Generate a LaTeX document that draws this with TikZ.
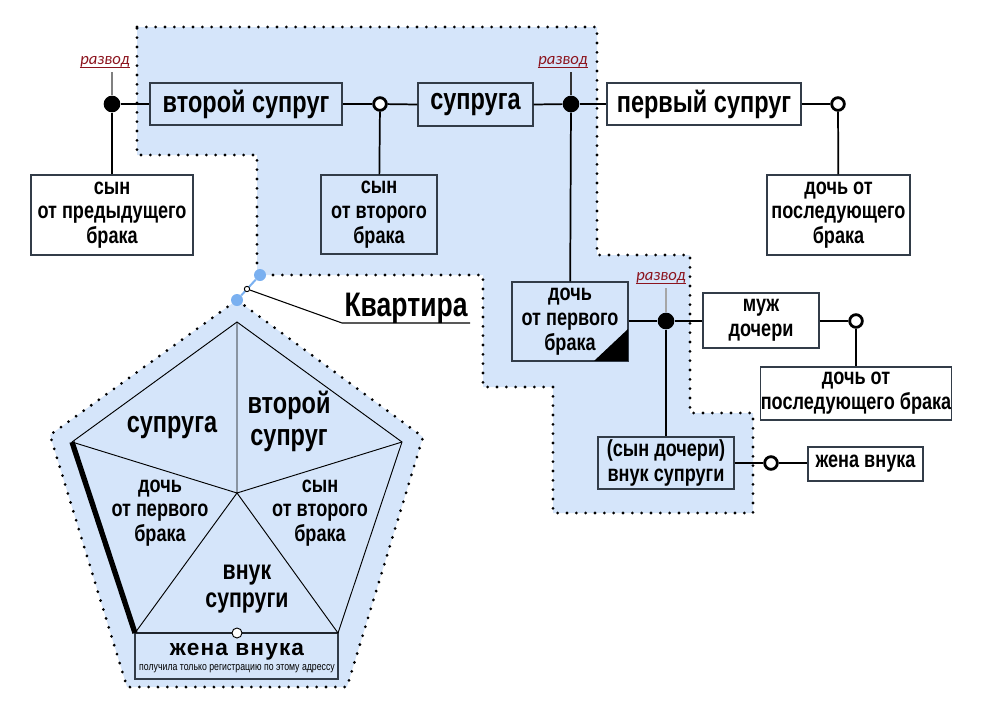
\documentclass[tikz,border=0pt]{standalone}
\usepackage{fontspec}
\setmainfont{Liberation Sans}[FakeStretch=0.78]
\newfontfamily\wfont{Liberation Sans}[LetterSpace=5]
\newfontfamily\rfont{Carlito}
\definecolor{reg}{RGB}{213,229,250}
\definecolor{bdot}{RGB}{122,176,240}
\definecolor{razvc}{RGB}{140,20,30}
\definecolor{bord}{RGB}{50,60,72}
\tikzset{
  box/.style={draw=bord, line width=0.9pt, rectangle, inner sep=0pt, align=center,
    font=\bfseries\fontsize{17.4}{18.6}\selectfont},
  bigtext/.style={font=\bfseries\fontsize{22.6}{24}\selectfont},
  bluebox/.style={box, fill=reg},
  whitebox/.style={box, fill=white},
  fdot/.style={circle, fill=black, inner sep=0pt, minimum size=12.5pt},
  odot/.style={circle, draw=black, line width=2.1pt, fill=white, inner sep=0pt, minimum size=9.5pt},
  conn/.style={line width=1.3pt},
  region/.style={fill=reg, draw=black, line width=2.3pt, dash pattern=on 0pt off 7pt, line cap=round},
  razvt/.style={font=\rfont\itshape\fontsize{12.5}{13}\selectfont, text=razvc, inner sep=0pt},
  ul/.style={draw=razvc, line width=0.6pt},
  rline/.style={draw=gray, line width=1pt},
  plabel/.style={align=center, font=\bfseries\fontsize{17.4}{18.6}\selectfont},
  thin/.style={line width=0.7pt},
}
\begin{document}
\begin{tikzpicture}[x=0.75pt,y=-0.75pt]
\useasboundingbox (0,0) rectangle (1000,707);
% regions
\path[region] (137,27) -- (597,27) -- (597,255) -- (690,255) -- (690,413) -- (753,413)
  -- (753,513) -- (553,513) -- (553,387) -- (483,387) -- (483,275) -- (257,275)
  -- (257,155) -- (137,155) -- cycle;
\path[region] (237,300) -- (423,437) -- (347,687) -- (127,687) -- (50,435) -- cycle;

% top row boxes
\node[bluebox, bigtext, minimum width=144pt, minimum height=31.5pt] (b2) at (246,104) {второй супруг};
\node[whitebox, minimum width=121.5pt, minimum height=60pt] (s1) at (112,215) {сын\\от предыдущего\\брака};
\node[bluebox, minimum width=87pt, minimum height=59.25pt] (s2) at (379,214.5) {сын\\от второго\\брака};
\node[bluebox, bigtext, minimum width=86.25pt, minimum height=32.25pt] (w) at (475.5,104.5) {супруга};
\node[whitebox, bigtext, minimum width=145.5pt, minimum height=31.5pt] (h1) at (704,104) {первый супруг};
\node[whitebox, minimum width=107.25pt, minimum height=60pt] (dl) at (838.5,215) {дочь от\\последующего\\брака};
\node[bluebox, minimum width=87pt, minimum height=59.25pt] (df) at (570,321.5) {дочь\\от первого\\брака};
\node[whitebox, minimum width=87pt, minimum height=41.25pt] (hd) at (761,320.5) {муж\\дочери};
\node[whitebox, minimum width=141pt, minimum height=39.75pt] (dl2) at (856,393.5) {дочь от\\последующего брака};
\node[bluebox, minimum width=102pt, minimum height=39pt] (gs) at (666,463) {(сын дочери)\\внук супруги};
\node[whitebox, minimum width=86.25pt, minimum height=25.5pt] (gw) at (865.5,464) {жена внука};
\fill[black] (594,361) -- (628,361) -- (628,329) -- cycle;
\draw[bord, line width=0.9pt] (df.south west) rectangle (df.north east);

% dots and circles
\node[fdot] (d1) at (112,104) {};
\node[odot] (c1) at (380,104) {};
\node[fdot] (d2) at (571,104) {};
\node[odot] (c2) at (838,104) {};
\node[fdot] (d3) at (666,321) {};
\node[odot] (c3) at (856,321) {};
\node[odot] (c4) at (771,463) {};

% razvod labels
\node[razvt] (r1) at (105,62) {развод};
\node[razvt] (r2) at (563,62) {развод};
\node[razvt] (r3) at (661,278) {развод};
\foreach \r in {r1,r2,r3}{\draw[ul] ([yshift=-2.2pt]\r.base west) -- ([yshift=-2.2pt]\r.base east);}
\coordinate (u1) at (112,72);
\coordinate (u2) at (571,72);
\coordinate (u3) at (666,288);
\draw[rline] (u1) -- (d1);
\draw[line width=0.8pt, black!80] (u2) -- (d2);
\draw[rline, gray!70] (u3) -- (d3);

% connectors
\draw[conn] (d1) -- (b2.west);
\draw[conn] (d1) -- (s1);
\draw[conn] (b2.east) -- (c1);
\draw[conn] (c1) -- (w.west);
\draw[conn] (c1) -- (s2);
\draw[conn] (w.east) -- (d2);
\draw[conn] (d2) -- (h1.west);
\draw[conn] (d2) -- (df);
\draw[conn] (h1.east) -- (c2);
\draw[conn] (c2) -- (dl);
\draw[conn] (df.east |- d3) -- (d3);
\draw[conn] (d3) -- (hd.west |- d3);
\draw[conn] (hd.east |- c3) -- (c3);
\draw[conn] (c3) -- (dl2);
\draw[conn] (d3) -- (gs);
\draw[conn] (gs.east |- c4) -- (c4);
\draw[conn] (c4) -- (gw.west |- c4);

% Kvartira callout
\node[circle, fill=bdot, inner sep=0pt, minimum size=9pt] (bd1) at (260,275) {};
\node[circle, fill=bdot, inner sep=0pt, minimum size=9pt] (bd2) at (237,300) {};
\draw[bdot, line width=1.5pt] (bd1) -- (bd2);
\node[circle, draw=black, fill=white, line width=0.7pt, inner sep=0pt, minimum size=4pt] (hc) at (247,289) {};
\node[font=\bfseries\fontsize{25.5}{26}\selectfont, inner sep=0pt, anchor=base] (kv) at (406,316) {Квартира};
\coordinate (kl) at (342,323);
\coordinate (kr) at (470,323);
\draw[line width=0.8pt] (hc) -- (kl) -- (kr);

% pentagon
\coordinate (T) at (237,322);
\coordinate (R) at (402,442);
\coordinate (BR) at (338,633);
\coordinate (BL) at (135,633);
\coordinate (L) at (72,442);
\coordinate (C) at (237,493);
\node[draw=bord, fill=reg, line width=0.9pt, inner sep=0pt, minimum width=152.25pt, minimum height=34.5pt] (gwp) at (236.5,656) {};
\draw[thin] (L) -- (T) -- (R) -- (BR) -- (BL);
\draw[thin] (C) -- (T) (C) -- (R) (C) -- (BR) (C) -- (BL) (C) -- (L);
\draw[line width=4pt] (L) -- (BL);
\node[circle, draw=black, fill=white, line width=0.7pt, inner sep=0pt, minimum size=7.5pt] (pc) at (237,633) {};
\node[bigtext, inner sep=0pt] (p1) at (172,427) {супруга};
\node[bigtext, align=center, inner sep=0pt] (p2) at (289,421) {второй\\супруг};
\node[plabel, inner sep=0pt] (p3) at (160,513) {дочь\\от первого\\брака};
\node[plabel, inner sep=0pt] (p4) at (320,513) {сын\\от второго\\брака};
\node[align=center, inner sep=0pt, font=\bfseries\fontsize{20.5}{21}\selectfont] (p5) at (247,589) {внук\\супруги};
\node[inner sep=0pt, font=\wfont\bfseries\fontsize{17}{17}\selectfont] (p6) at (237,652) {жена внука};
\node[inner sep=0pt, font=\fontsize{8.4}{9}\selectfont] (p7) at (237,669) {получила только регистрацию по этому адрессу};
\end{tikzpicture}
\end{document}
